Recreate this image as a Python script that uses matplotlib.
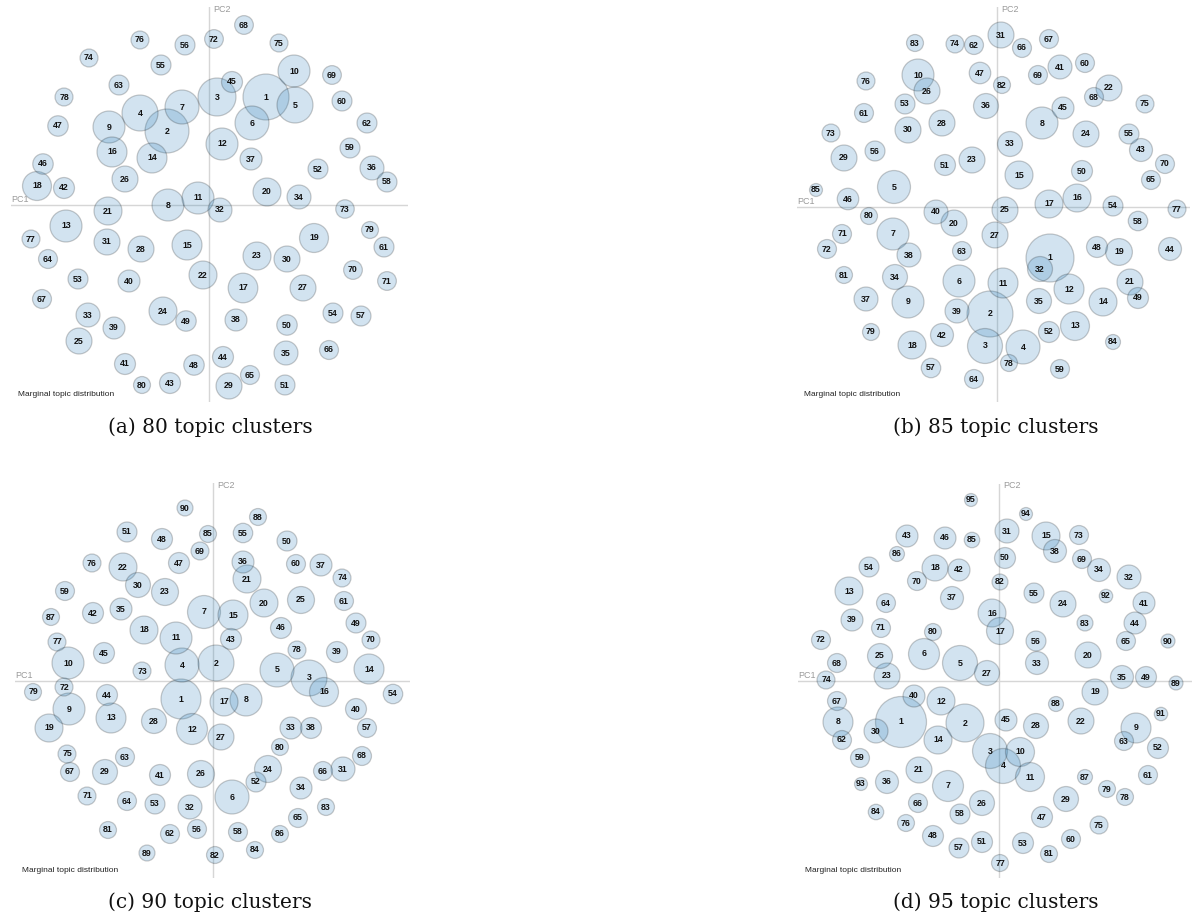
import numpy as np
import matplotlib.pyplot as plt
from matplotlib.patches import Circle

# Intertopic distance maps: topic centres on PC1/PC2 and marginal topic share (%)
pc1_80 = [0.057, -0.042, 0.008, -0.069, 0.086, 0.043, -0.027, -0.041, -0.100, 0.085,
          -0.011, 0.013, -0.143, -0.057, -0.022, -0.097, 0.034, -0.172, 0.105, 0.058,
          -0.101, -0.006, 0.048, -0.046, -0.130, -0.084, 0.094, -0.068, 0.020, 0.078,
          -0.102, 0.011, -0.121, 0.090, 0.077, 0.163, 0.042, 0.027, -0.095, -0.080,
          -0.084, -0.145, -0.039, 0.014, 0.023, -0.166, -0.151, -0.015, -0.023, 0.078,
          0.076, 0.109, -0.131, 0.124, -0.048, -0.024, 0.152, 0.178, 0.141, 0.133,
          0.175, 0.158, -0.090, -0.161, 0.041, 0.120, -0.167, 0.035, 0.123, 0.144,
          0.178, 0.005, 0.136, -0.120, 0.070, -0.069, -0.178, -0.145, 0.161, -0.067]
pc2_80 = [0.108, 0.074, 0.108, 0.092, 0.100, 0.082, 0.098, 0.000, 0.078, 0.134,
          0.007, 0.061, -0.021, 0.047, -0.040, 0.053, -0.083, 0.019, -0.033, 0.013,
          -0.006, -0.070, -0.051, -0.106, -0.136, 0.026, -0.083, -0.044, -0.181, -0.054,
          -0.037, -0.005, -0.110, 0.008, -0.148, 0.037, 0.046, -0.115, -0.123, -0.076,
          -0.159, 0.017, -0.178, -0.152, 0.123, 0.041, 0.079, -0.160, -0.116, -0.120,
          -0.180, 0.036, -0.074, -0.108, 0.140, 0.160, -0.111, 0.023, 0.057, 0.104,
          -0.042, 0.082, 0.120, -0.054, -0.170, -0.145, -0.094, 0.180, 0.130, -0.065,
          -0.076, 0.166, -0.004, 0.147, 0.162, 0.165, -0.034, 0.108, -0.025, -0.180]
share_80 = [5.29, 4.84, 3.61, 3.24, 3.24, 2.89, 2.89, 2.56, 2.56, 2.56,
            2.56, 2.56, 2.56, 2.25, 2.25, 2.25, 2.20, 2.10, 2.10, 1.96,
            1.96, 1.96, 1.96, 1.96, 1.69, 1.69, 1.69, 1.69, 1.69, 1.69,
            1.69, 1.44, 1.44, 1.44, 1.44, 1.44, 1.21, 1.21, 1.21, 1.21,
            1.10, 1.10, 1.10, 1.10, 1.10, 1.05, 1.05, 1.05, 1.05, 1.05,
            1.00, 1.00, 1.00, 1.00, 1.00, 1.00, 1.00, 1.00, 1.00, 1.00,
            1.00, 1.00, 1.00, 0.90, 0.90, 0.90, 0.90, 0.88, 0.88, 0.88,
            0.88, 0.88, 0.86, 0.81, 0.81, 0.81, 0.81, 0.81, 0.72, 0.72]

pc1_85 = [0.053, -0.007, -0.012, 0.026, -0.103, -0.038, -0.104, 0.045, -0.089, -0.079,
          0.006, 0.072, 0.078, 0.106, 0.022, 0.080, 0.052, -0.085, 0.122, -0.043,
          0.133, 0.112, -0.025, 0.089, 0.008, -0.070, -0.002, -0.055, -0.153, -0.089,
          0.004, 0.043, 0.013, -0.102, 0.042, -0.011, -0.131, -0.088, -0.040, -0.061,
          0.063, -0.055, 0.144, 0.173, 0.066, -0.149, -0.017, 0.100, 0.141, 0.085,
          -0.052, 0.052, -0.092, 0.116, 0.132, -0.122, -0.066, 0.141, 0.063, 0.088,
          -0.133, -0.023, -0.035, -0.023, 0.154, 0.025, 0.052, 0.097, 0.041, 0.168,
          -0.155, -0.170, -0.166, -0.042, 0.148, -0.131, 0.180, 0.012, -0.126, -0.128,
          -0.153, 0.005, -0.082, 0.116, -0.181]
pc2_85 = [-0.051, -0.107, -0.139, -0.140, 0.020, -0.074, -0.027, 0.084, -0.095, 0.132,
          -0.076, -0.082, -0.119, -0.095, 0.032, 0.009, 0.003, -0.138, -0.045, -0.016,
          -0.075, 0.119, 0.047, 0.073, -0.003, 0.116, -0.028, 0.084, 0.049, 0.077,
          0.172, -0.062, 0.063, -0.070, -0.094, 0.101, -0.092, -0.048, -0.104, -0.005,
          0.140, -0.128, 0.057, -0.042, 0.099, 0.008, 0.134, -0.040, -0.091, 0.036,
          0.042, -0.125, 0.103, 0.001, 0.073, 0.056, -0.161, -0.014, -0.162, 0.144,
          0.094, 0.162, -0.044, -0.172, 0.027, 0.159, 0.168, 0.110, 0.132, 0.043,
          -0.027, -0.042, 0.074, 0.163, 0.103, 0.126, -0.002, -0.156, -0.125, -0.009,
          -0.068, 0.122, 0.164, -0.135, 0.017]
share_85 = [5.76, 5.29, 3.06, 2.89, 2.72, 2.56, 2.56, 2.56, 2.56, 2.56,
            2.25, 2.25, 2.10, 1.96, 1.96, 1.96, 1.96, 1.96, 1.80, 1.69,
            1.69, 1.69, 1.69, 1.69, 1.69, 1.69, 1.69, 1.69, 1.69, 1.69,
            1.69, 1.56, 1.56, 1.56, 1.56, 1.56, 1.44, 1.44, 1.44, 1.44,
            1.44, 1.32, 1.32, 1.32, 1.21, 1.16, 1.16, 1.10, 1.10, 1.10,
            1.10, 1.10, 1.00, 1.00, 1.00, 1.00, 0.95, 0.95, 0.90, 0.90,
            0.90, 0.90, 0.90, 0.90, 0.90, 0.90, 0.90, 0.90, 0.90, 0.90,
            0.90, 0.90, 0.81, 0.81, 0.81, 0.81, 0.81, 0.72, 0.72, 0.72,
            0.72, 0.72, 0.72, 0.56, 0.42]

pc1_90 = [-0.032, 0.003, 0.096, -0.031, 0.064, 0.019, -0.009, 0.033, -0.144, -0.145,
          -0.037, -0.021, -0.102, 0.156, 0.020, 0.111, 0.011, -0.069, -0.164, 0.051,
          0.034, -0.090, -0.048, 0.055, 0.088, -0.012, 0.008, -0.059, -0.108, -0.075,
          0.130, -0.023, 0.078, 0.088, -0.092, 0.030, 0.108, 0.098, 0.124, 0.143,
          -0.053, -0.120, 0.018, -0.106, -0.109, 0.068, -0.034, -0.051, 0.143, 0.074,
          -0.086, 0.043, -0.058, 0.180, 0.030, -0.016, 0.154, 0.025, -0.148, 0.083,
          0.131, -0.043, -0.088, -0.086, 0.085, 0.110, -0.143, 0.149, -0.013, 0.158,
          -0.126, -0.149, -0.071, 0.129, -0.146, -0.121, -0.156, 0.084, -0.180, 0.067,
          -0.105, 0.002, 0.113, 0.042, -0.005, 0.067, -0.162, 0.045, -0.066, -0.028]
pc2_90 = [-0.018, 0.018, 0.003, 0.016, 0.011, -0.116, 0.069, -0.019, -0.028, 0.018,
          0.043, -0.048, -0.037, 0.012, 0.066, -0.011, -0.021, 0.051, -0.047, 0.078,
          0.102, 0.114, 0.089, -0.088, 0.081, -0.093, -0.056, -0.040, -0.091, 0.096,
          -0.088, -0.126, -0.047, -0.107, 0.072, 0.119, 0.116, -0.047, 0.029, -0.028,
          -0.094, 0.068, 0.042, -0.014, 0.028, 0.053, 0.118, 0.142, 0.058, 0.140,
          0.149, -0.101, -0.123, -0.013, 0.148, -0.148, -0.047, -0.151, 0.090, 0.117,
          0.080, -0.153, -0.076, -0.120, -0.137, -0.090, -0.091, -0.075, 0.130, 0.041,
          -0.115, -0.006, 0.010, 0.103, -0.073, 0.118, 0.039, 0.031, -0.011, -0.066,
          -0.149, -0.174, -0.126, -0.169, 0.147, -0.153, 0.064, 0.164, -0.172, 0.173]
share_90 = [4.00, 3.24, 3.24, 2.89, 2.89, 2.89, 2.72, 2.56, 2.56, 2.56,
            2.56, 2.40, 2.25, 2.25, 2.25, 2.10, 1.96, 1.96, 1.96, 1.96,
            1.96, 1.96, 1.82, 1.82, 1.82, 1.82, 1.69, 1.56, 1.56, 1.56,
            1.44, 1.44, 1.21, 1.21, 1.21, 1.21, 1.21, 1.10, 1.10, 1.10,
            1.10, 1.10, 1.10, 1.10, 1.10, 1.10, 1.10, 1.10, 1.00, 1.00,
            1.00, 1.00, 1.00, 0.95, 0.95, 0.90, 0.90, 0.90, 0.90, 0.90,
            0.90, 0.90, 0.90, 0.90, 0.90, 0.90, 0.90, 0.90, 0.81, 0.81,
            0.81, 0.81, 0.81, 0.81, 0.81, 0.81, 0.81, 0.81, 0.72, 0.72,
            0.72, 0.72, 0.72, 0.72, 0.72, 0.72, 0.72, 0.72, 0.64, 0.64]

pc1_95 = [-0.098, -0.034, -0.009, 0.004, -0.039, -0.075, -0.051, -0.161, 0.137, 0.021,
          0.031, -0.058, -0.150, -0.061, 0.047, -0.007, 0.001, -0.064, 0.096, 0.089,
          -0.080, 0.082, -0.112, 0.064, -0.119, -0.017, -0.012, 0.037, 0.067, -0.123,
          0.008, 0.130, 0.038, 0.100, 0.123, -0.112, -0.047, 0.056, -0.147, -0.085,
          0.145, -0.040, -0.092, 0.136, 0.007, -0.054, 0.043, -0.066, 0.147, 0.006,
          -0.017, 0.159, 0.024, -0.130, 0.035, 0.037, -0.040, -0.039, -0.139, 0.072,
          0.149, -0.157, 0.125, -0.113, 0.127, -0.081, -0.162, -0.162, 0.083, -0.082,
          -0.118, -0.178, 0.080, -0.173, 0.100, -0.093, 0.001, 0.126, 0.108, -0.066,
          0.050, 0.001, 0.086, -0.123, -0.027, -0.102, 0.086, 0.057, 0.177, 0.169,
          0.162, 0.107, -0.138, 0.027, -0.028]
pc2_95 = [-0.041, -0.042, -0.070, -0.085, 0.018, 0.027, -0.105, -0.041, -0.047, -0.071,
          -0.096, -0.020, 0.090, -0.059, 0.145, 0.068, 0.050, 0.113, -0.011, 0.026,
          -0.089, -0.040, 0.005, 0.077, 0.025, -0.122, 0.008, -0.045, -0.118, -0.050,
          0.150, 0.104, 0.018, 0.111, 0.004, -0.101, 0.083, 0.130, 0.061, -0.015,
          0.078, 0.111, 0.145, 0.058, -0.039, 0.143, -0.136, -0.155, 0.004, 0.123,
          -0.161, -0.067, -0.162, 0.114, 0.088, 0.040, -0.167, -0.133, -0.077, -0.158,
          -0.094, -0.059, -0.060, 0.078, 0.040, -0.122, -0.020, 0.018, 0.122, 0.100,
          0.053, 0.041, 0.146, 0.001, -0.144, -0.142, -0.182, -0.116, -0.108, 0.049,
          -0.173, 0.099, 0.058, -0.131, 0.141, 0.127, -0.096, -0.023, -0.002, 0.040,
          -0.033, 0.085, -0.103, 0.167, 0.181]
share_95 = [6.50, 3.61, 3.06, 3.06, 3.06, 2.40, 2.40, 2.25, 2.25, 2.10,
            2.10, 1.96, 1.96, 1.96, 1.96, 1.96, 1.82, 1.69, 1.69, 1.69,
            1.69, 1.69, 1.69, 1.69, 1.56, 1.56, 1.56, 1.56, 1.56, 1.44,
            1.44, 1.44, 1.32, 1.32, 1.32, 1.32, 1.32, 1.32, 1.21, 1.21,
            1.21, 1.21, 1.21, 1.21, 1.21, 1.21, 1.10, 1.10, 1.10, 1.10,
            1.10, 1.10, 1.10, 1.00, 1.00, 1.00, 1.00, 1.00, 0.90, 0.90,
            0.90, 0.90, 0.90, 0.90, 0.90, 0.90, 0.90, 0.90, 0.90, 0.90,
            0.90, 0.90, 0.90, 0.81, 0.81, 0.72, 0.72, 0.72, 0.72, 0.72,
            0.72, 0.64, 0.64, 0.60, 0.60, 0.56, 0.56, 0.56, 0.49, 0.49,
            0.45, 0.45, 0.42, 0.42, 0.42]

captions = ["(a) 80 topic clusters", "(b) 85 topic clusters",
            "(c) 90 topic clusters", "(d) 95 topic clusters"]

W, H = 1192, 919
PX = 1000.0  # pixels per PC unit

# plot boxes (left, top, right, bottom) and axis crossing, in pixels
boxes = [(11, 7, 408, 402, 209, 205),
         (797, 7, 1190, 402, 997, 207),
         (15, 483, 410, 878, 213, 681),
         (798, 484, 1192, 878, 999, 681)]
cap_pos = [(210, 427), (996, 427), (210, 902), (996, 902)]

fig = plt.figure(figsize=(W / 100, H / 100), dpi=100)
fig.patch.set_facecolor("white")

SANS = "Liberation Sans"
fill = (0.122, 0.467, 0.706, 0.2)
edge = (0.0, 0.0, 0.0, 0.2)


def draw_map(box, pc1, pc2, share):
    left, top, right, bottom, ox, oy = box
    ax = fig.add_axes([left / W, 1 - bottom / H, (right - left) / W, (bottom - top) / H])
    ax.set_xlim((left - ox) / PX, (right - ox) / PX)
    ax.set_ylim((oy - bottom) / PX, (oy - top) / PX)
    ax.axis("off")
    x0, x1 = ax.get_xlim()
    y0, y1 = ax.get_ylim()

    ax.axhline(0, color="#d6d6d6", lw=1, zorder=0)
    ax.axvline(0, color="#d6d6d6", lw=1, zorder=0)
    ax.text(0.004, y1 - 0.002, "PC2", fontsize=6.5, family=SANS, color="#9a9a9a",
            ha="left", va="center")
    ax.text(x0, 0.006, "PC1", fontsize=6.5, family=SANS, color="#9a9a9a",
            ha="left", va="center")

    for k, (x, y, s) in enumerate(zip(pc1, pc2, share), start=1):
        r = 0.01 * np.sqrt(s)
        ax.add_patch(Circle((x, y), r, facecolor=fill, edgecolor=edge, lw=0.9,
                            zorder=2, clip_on=False))
        ax.text(x, y, str(k), fontsize=6.3, fontweight="bold", family=SANS,
                color="#111111", ha="center", va="center", zorder=3)

    ax.text(x0 + 0.007, y0 + 0.008, "Marginal topic distribution", fontsize=6,
            family=SANS, color="#222222", ha="left", va="center")


data = [(pc1_80, pc2_80, share_80), (pc1_85, pc2_85, share_85),
        (pc1_90, pc2_90, share_90), (pc1_95, pc2_95, share_95)]

for box, (p1, p2, sh), cap, (cx, cy) in zip(boxes, data, captions, cap_pos):
    draw_map(box, p1, p2, sh)
    fig.text(cx / W, 1 - cy / H, cap, fontsize=14.5, family="DejaVu Serif",
             ha="center", va="center", color="#111111")

fig.savefig("out.png", dpi=100)
